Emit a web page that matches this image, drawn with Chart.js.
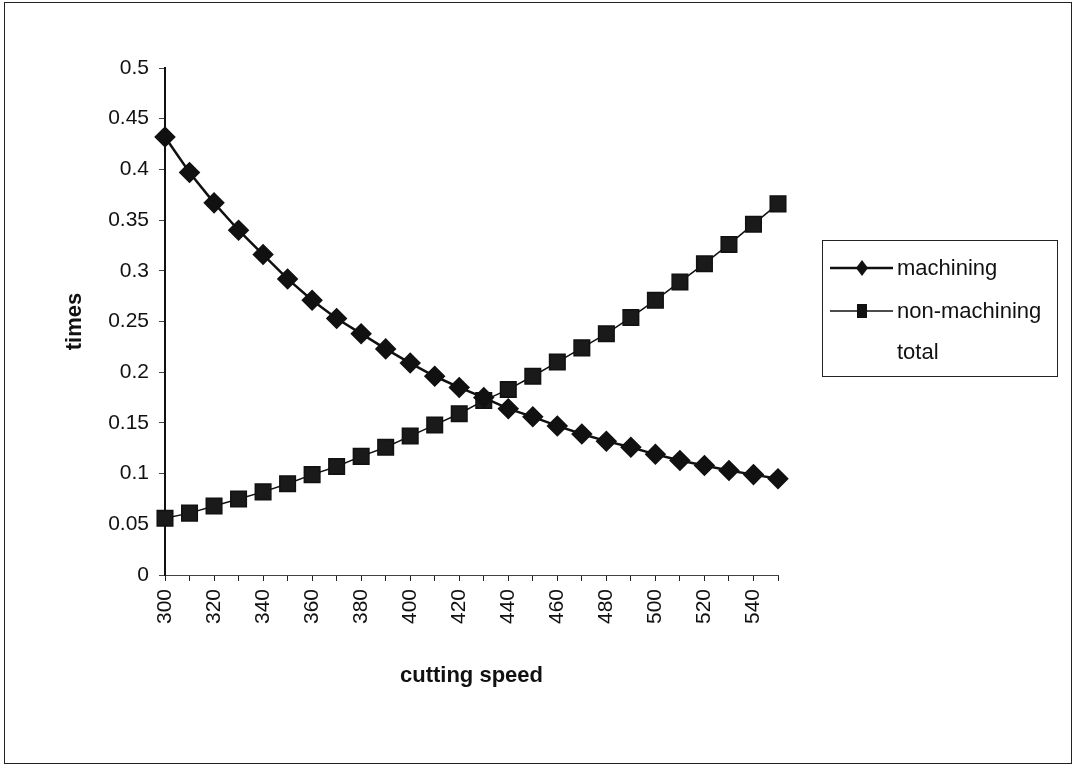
<!DOCTYPE html>
<html>
<head>
<meta charset="utf-8">
<script src="https://cdn.jsdelivr.net/npm/chart.js@4/dist/chart.umd.min.js"></script>
<style>
  html, body { margin: 0; padding: 0; background: #fff; }
  #wrap { position: relative; width: 1074px; height: 766px; }
  #frame { position: absolute; left: 4px; top: 2px; width: 1066px; height: 760px; border: 1px solid #222; pointer-events: none; }
</style>
</head>
<body>
<div id="wrap">
  <canvas id="chart" width="1074" height="766"></canvas>
  <div id="frame"></div>
</div>
<script>
// cutting speed categories
const speeds = [300, 310, 320, 330, 340, 350, 360, 370, 380, 390, 400, 410, 420,
  430, 440, 450, 460, 470, 480, 490, 500, 510, 520, 530, 540, 550];
const machining = [0.432, 0.397, 0.367, 0.340, 0.316, 0.292, 0.271, 0.253, 0.238, 0.223, 0.209, 0.196, 0.185,
  0.175, 0.164, 0.156, 0.147, 0.139, 0.132, 0.126, 0.119, 0.113, 0.108, 0.103, 0.099, 0.095];
const nonMachining = [0.056, 0.061, 0.068, 0.075, 0.082, 0.090, 0.099, 0.107, 0.117, 0.126, 0.137, 0.148, 0.159,
  0.172, 0.183, 0.196, 0.210, 0.224, 0.238, 0.254, 0.271, 0.289, 0.307, 0.326, 0.346, 0.366];
const total = []; // shown in legend only, nothing plotted
const seriesNames = ["machining", "non-machining", "total"];

const FONT = "'Liberation Sans', Arial, sans-serif";

// legend drawn by hand, excel style box
const boxLegend = {
  id: "boxLegend",
  afterDraw: (chart) => {
    const ctx = chart.ctx;
    const x0 = 822, y0 = 240, w = 235, h = 136;
    ctx.save();
    ctx.strokeStyle = "#222";
    ctx.lineWidth = 1;
    ctx.strokeRect(x0 + 0.5, y0 + 0.5, w, h);
    const rows = [268, 311, 352];
    ctx.font = "22px " + FONT;
    ctx.textBaseline = "middle";
    ctx.fillStyle = "#111";
    rows.forEach((ry, i) => {
      if (i < 2) {
        ctx.strokeStyle = "#111";
        ctx.lineWidth = i === 0 ? 2.5 : 1.5;
        ctx.beginPath();
        ctx.moveTo(830, ry);
        ctx.lineTo(893, ry);
        ctx.stroke();
        ctx.fillStyle = "#111";
        ctx.beginPath();
        if (i === 0) {
          ctx.moveTo(862, ry - 8);
          ctx.lineTo(868, ry);
          ctx.lineTo(862, ry + 8);
          ctx.lineTo(856, ry);
          ctx.closePath();
        } else {
          ctx.rect(857, ry - 7, 10, 14);
        }
        ctx.fill();
      }
      ctx.fillStyle = "#111";
      ctx.fillText(seriesNames[i], 897, ry + 1);
    });
    ctx.restore();
  }
};

const config = {
  type: "line",
  data: {
    labels: speeds,
    datasets: [
      {
        label: seriesNames[0],
        data: machining,
        borderColor: "#111",
        backgroundColor: "#111",
        borderWidth: 2.5,
        pointStyle: "rectRot",
        pointRadius: 9,
        pointBackgroundColor: "#111",
        pointBorderColor: "#111",
        tension: 0,
      },
      {
        label: seriesNames[1],
        data: nonMachining,
        borderColor: "#111",
        backgroundColor: "#1a1a1a",
        borderWidth: 1.5,
        pointStyle: "rect",
        pointRadius: 11,
        pointBackgroundColor: "#1a1a1a",
        pointBorderColor: "#111",
        tension: 0,
      },
      {
        label: seriesNames[2],
        data: total,
        borderColor: "rgba(0,0,0,0)",
        pointRadius: 0,
      },
    ],
  },
  plugins: [boxLegend],
  options: {
    responsive: false,
    animation: false,
    layout: {
      padding: { left: 58, right: 296, top: 68, bottom: 73 },
    },
    plugins: {
      legend: { display: false },
      tooltip: { enabled: false },
    },
    scales: {
      x: {
        offset: false,
        afterFit: (scale) => { scale.height = 118; },
        grid: {
          drawOnChartArea: false,
          drawTicks: true,
          tickLength: 6,
          color: "#222",
        },
        border: { color: "#444", width: 1 },
        ticks: {
          autoSkip: false,
          maxRotation: 90,
          minRotation: 90,
          padding: 8,
          color: "#111",
          font: { family: FONT, size: 21 },
          callback: (val, index) => (index % 2 === 0 ? speeds[index] : ""),
        },
        title: {
          display: true,
          text: "cutting speed",
          color: "#111",
          font: { family: FONT, size: 22, weight: "bold" },
        },
      },
      y: {
        min: 0,
        max: 0.5,
        afterFit: (scale) => { scale.width = 107; },
        grid: {
          drawOnChartArea: false,
          drawTicks: true,
          tickLength: 6,
          color: "#444",
        },
        border: { color: "#111", width: 2 },
        ticks: {
          stepSize: 0.05,
          padding: 10,
          color: "#111",
          font: { family: FONT, size: 21 },
          callback: (v) => String(Math.round(v * 100) / 100),
        },
        title: {
          display: true,
          text: "times",
          color: "#111",
          font: { family: FONT, size: 22, weight: "bold" },
        },
      },
    },
  },
};

new Chart(document.getElementById("chart"), config);
</script>
</body>
</html>
